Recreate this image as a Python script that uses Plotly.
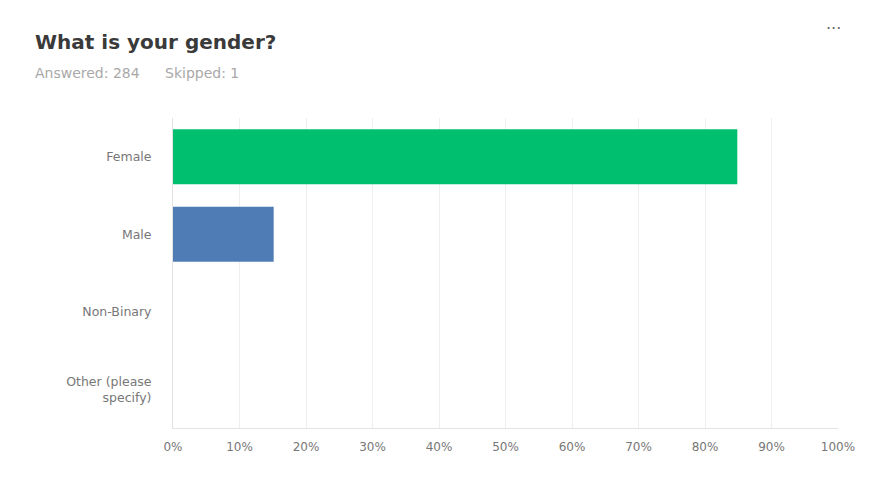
import plotly.graph_objects as go

categories = ["Female", "Male", "Non-Binary", "Other (please<br>specify)"]
values = [84.86, 15.14, 0, 0]
colors = ["#00BF6F", "#507CB6", "#00BF6F", "#00BF6F"]
tick_vals = [0, 10, 20, 30, 40, 50, 60, 70, 80, 90, 100]
tick_text = [f"{v}%" for v in tick_vals]
title_text = "What is your gender?"
answered_text = "Answered: 284"
skipped_text = "Skipped: 1"

FONT = "DejaVu Sans, sans-serif"
W, H = 870, 499
ml, mr, mt, mb = 165, 40, 110, 79
pw, ph = W - ml - mr, H - mt - mb


def px(x, y):
    return (x - ml) / pw, 1 - (y - mt) / ph


fig = go.Figure(go.Bar(
    y=categories, x=values, orientation="h",
    marker=dict(color=colors, line=dict(width=0)),
    width=0.71, hoverinfo="skip",
))

fig.update_layout(
    width=W, height=H,
    margin=dict(l=ml, r=mr, t=mt, b=mb),
    paper_bgcolor="white", plot_bgcolor="white",
    font=dict(family=FONT, color="#777777", size=12),
    showlegend=False,
    xaxis=dict(
        range=[0, 100], tickvals=tick_vals, ticktext=tick_text,
        showgrid=True, gridcolor="#efefef", gridwidth=1,
        showline=True, linecolor="#e3e3e3", linewidth=1,
        zeroline=False, ticks="", ticklabelstandoff=8,
        tickfont=dict(size=12, color="#777777", family=FONT),
        fixedrange=True,
    ),
    yaxis=dict(
        autorange="reversed", showgrid=False,
        showline=True, linecolor="#e3e3e3", linewidth=1,
        ticks="", ticklabelstandoff=18,
        tickfont=dict(size=12.5, color="#777777", family=FONT),
        fixedrange=True,
    ),
)

specs = [
    ("<b>" + title_text + "</b>", 25, 34, 20, "#3a3a3a", "left"),
    (answered_text, 25, 65, 14, "#a8a8a8", "left"),
    (skipped_text, 155, 65, 14, "#a8a8a8", "left"),
    ("···", 825, 20, 16, "#666666", "center"),
]
anns = []
for t, x, y, s, c, al in specs:
    xx, yy = px(x, y)
    anns.append(dict(text=t, x=xx, y=yy, xref="paper", yref="paper",
                     xanchor=al, yanchor="middle", showarrow=False,
                     font=dict(size=s, color=c, family=FONT)))
fig.update_layout(annotations=anns)

xb = (858 - ml) / pw
fig.add_shape(type="line", xref="paper", yref="paper",
              x0=xb, x1=xb, y0=-1, y1=2,
              line=dict(color="#f0f0f0", width=3))

fig.write_html("out.html", config={"displayModeBar": False})
